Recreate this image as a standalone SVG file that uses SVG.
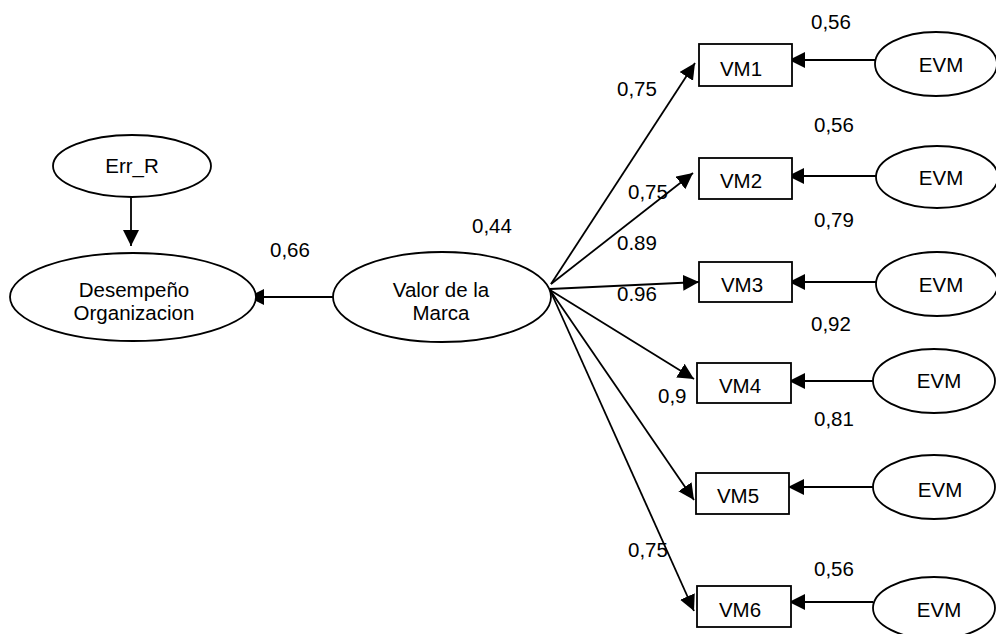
<svg xmlns="http://www.w3.org/2000/svg" width="996" height="634" viewBox="0 0 996 634">
  <style>
    .shape { fill: #ffffff; stroke: #000000; stroke-width: 1.8; }
    .edge { fill: none; stroke: #000000; stroke-width: 1.8; marker-end: url(#arrow); }
    text { font-family: "Liberation Sans", Arial, sans-serif; font-size: 20.5px; fill: #000000; }
    .c { text-anchor: middle; }
  </style>
  <defs>
    <marker id="arrow" markerUnits="userSpaceOnUse" markerWidth="18" markerHeight="18" refX="16" refY="8" orient="auto">
      <path d="M0,0 L16,8 L0,16 Z" fill="#000000"/>
    </marker>
  </defs>
  <rect width="996" height="634" fill="#ffffff"/>

  <!-- connectors -->
  <g id="connectors">
    <line class="edge" x1="131" y1="197" x2="131" y2="246"/>
    <line class="edge" x1="333" y1="297" x2="248" y2="297"/>
    <line class="edge" x1="551" y1="284" x2="695" y2="63"/>
    <line class="edge" x1="551" y1="284" x2="693" y2="173"/>
    <line class="edge" x1="550" y1="289" x2="699" y2="282"/>
    <line class="edge" x1="550" y1="290" x2="694" y2="379"/>
    <line class="edge" x1="550" y1="290" x2="694" y2="500"/>
    <line class="edge" x1="550" y1="290" x2="694" y2="611"/>
    <line class="edge" x1="875" y1="60" x2="789" y2="60"/>
    <line class="edge" x1="876" y1="176" x2="788" y2="176"/>
    <line class="edge" x1="876" y1="282" x2="789" y2="282"/>
    <line class="edge" x1="873" y1="381" x2="789" y2="381"/>
    <line class="edge" x1="873" y1="487" x2="788" y2="487"/>
    <line class="edge" x1="873" y1="602" x2="789" y2="602"/>
  </g>

  <!-- coefficient labels -->
  <g id="labels">
    <text x="270" y="257">0,66</text>
    <text x="472" y="233">0,44</text>
    <text x="617" y="96">0,75</text>
    <text x="628" y="199">0,75</text>
    <text x="617" y="250">0.89</text>
    <text x="617" y="301">0.96</text>
    <text x="658" y="403">0,9</text>
    <text x="628" y="557">0,75</text>
    <text x="811" y="29">0,56</text>
    <text x="814" y="132">0,56</text>
    <text x="814" y="227">0,79</text>
    <text x="811" y="331">0,92</text>
    <text x="814" y="426">0,81</text>
    <text x="814" y="576">0,56</text>
  </g>

  <g id="err_r">
    <ellipse class="shape" cx="132" cy="166" rx="79" ry="31"/>
    <text class="c" x="132" y="173">Err_R</text>
  </g>
  <g id="desempeno">
    <ellipse class="shape" cx="133" cy="297" rx="123" ry="44"/>
    <text class="c" x="134" y="297">Desempeño</text>
    <text class="c" x="134" y="320">Organizacion</text>
  </g>
  <g id="valor">
    <ellipse class="shape" cx="442" cy="297" rx="109" ry="45"/>
    <text class="c" x="441" y="297">Valor de la</text>
    <text class="c" x="441" y="320">Marca</text>
  </g>

  <g id="vm1">
    <rect class="shape" x="699" y="44" width="93" height="42"/>
    <text class="c" x="741" y="76">VM1</text>
  </g>
  <g id="vm2">
    <rect class="shape" x="699" y="158" width="93" height="41"/>
    <text class="c" x="741" y="188">VM2</text>
  </g>
  <g id="vm3">
    <rect class="shape" x="699" y="262" width="93" height="40"/>
    <text class="c" x="742" y="292">VM3</text>
  </g>
  <g id="vm4">
    <rect class="shape" x="697" y="363" width="94" height="40"/>
    <text class="c" x="740" y="393">VM4</text>
  </g>
  <g id="vm5">
    <rect class="shape" x="696" y="473" width="93" height="41"/>
    <text class="c" x="738" y="503">VM5</text>
  </g>
  <g id="vm6">
    <rect class="shape" x="697" y="586" width="94" height="41"/>
    <text class="c" x="740" y="617">VM6</text>
  </g>

  <g id="evm1">
    <ellipse class="shape" cx="936" cy="64" rx="61" ry="32"/>
    <text class="c" x="941" y="72">EVM</text>
  </g>
  <g id="evm2">
    <ellipse class="shape" cx="937" cy="177" rx="61" ry="31"/>
    <text class="c" x="941" y="185">EVM</text>
  </g>
  <g id="evm3">
    <ellipse class="shape" cx="937" cy="284" rx="61" ry="32"/>
    <text class="c" x="941" y="292">EVM</text>
  </g>
  <g id="evm4">
    <ellipse class="shape" cx="934" cy="381" rx="61" ry="32"/>
    <text class="c" x="939" y="388">EVM</text>
  </g>
  <g id="evm5">
    <ellipse class="shape" cx="934" cy="487" rx="61" ry="32"/>
    <text class="c" x="940" y="497">EVM</text>
  </g>
  <g id="evm6">
    <ellipse class="shape" cx="934" cy="608" rx="61" ry="31"/>
    <text class="c" x="939" y="617">EVM</text>
  </g>
</svg>
